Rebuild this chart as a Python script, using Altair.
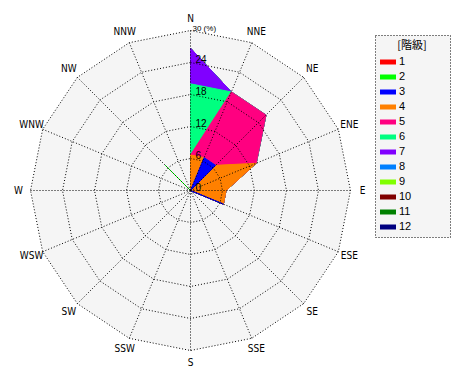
import math
import altair as alt
import pandas as pd

# ---------------- data ----------------
directions = ["N", "NNE", "NE", "ENE", "E", "ESE", "SE", "SSE",
              "S", "SSW", "SW", "WSW", "W", "WNW", "NW", "NNW"]
classes = ["1", "2", "3", "4", "5", "6", "7", "8", "9", "10", "11", "12"]
class_colors = ["#ff0000", "#00ff00", "#0000ff", "#ff8000", "#ff0080", "#00ff80",
                "#8000ff", "#0080ff", "#80ff00", "#800000", "#008000", "#000080"]

# frequency (%) of each class per direction (N, NNE, ... NNW)
freq_1 = [0, 0, 0, 0, 0, 0, 0, 0, 0, 0, 0, 0, 0, 0, 0, 0]
freq_2 = [0, 0, 0, 0, 0, 0, 0, 0, 0, 0, 0, 0, 0, 0, 6.67, 0]
freq_3 = [0, 6.67, 6.67, 0, 0, 6.67, 0, 0, 0, 0, 0, 0, 0, 0, 0, 0]
freq_4 = [6.67, 0, 0, 13.33, 6.67, 0, 0, 0, 0, 0, 0, 0, 0, 0, 0, 0]
freq_5 = [0, 13.33, 13.33, 0, 0, 0, 0, 0, 0, 0, 0, 0, 0, 0, 0, 0]
freq_6 = [13.33, 0, 0, 0, 0, 0, 0, 0, 0, 0, 0, 0, 0, 0, 0, 0]
freq_7 = [6.67, 0, 0, 0, 0, 0, 0, 0, 0, 0, 0, 0, 0, 0, 0, 0]
freq_8 = [0] * 16
freq_9 = [0] * 16
freq_10 = [0] * 16
freq_11 = [0] * 16
freq_12 = [0] * 16
all_freqs = [freq_1, freq_2, freq_3, freq_4, freq_5, freq_6,
             freq_7, freq_8, freq_9, freq_10, freq_11, freq_12]

ring_values = [6, 12, 18, 24, 30]
radial_label_values = [0, 6, 12, 18, 24]
radial_label_texts = ["0", "6", "12", "18", "24"]
outer_label_text = "30 (%)"
legend_title = "[階級]"
R_MAX = 30

# ---------------- tables ----------------
rows = []
cum = [0.0] * 16
for ci, cls in enumerate(classes):
    for i in range(16):
        cum[i] += all_freqs[ci][i]
        rows.append({"cls": cls, "k": ci, "i": i, "ang": i * 22.5, "r": cum[i]})
poly_df = pd.DataFrame(rows)

ring_df = pd.DataFrame([{"ring": v, "i": i, "ang": i * 22.5, "r": v}
                        for v in ring_values for i in range(16)])
spoke_df = pd.DataFrame([{"i": i, "ang": i * 22.5, "r0": 0, "r": R_MAX}
                         for i in range(16)])
dir_df = pd.DataFrame([{"d": d, "ang": i * 22.5, "r": 32.25}
                       for i, d in enumerate(directions)])
rlab_df = pd.DataFrame({"t": radial_label_texts, "v": radial_label_values})
outer_df = pd.DataFrame({"t": [outer_label_text], "v": [R_MAX]})

xs = alt.Scale(domain=[-R_MAX, R_MAX], range=[0.5, 320.5], nice=False, zero=False)
ys = alt.Scale(domain=[-R_MAX, R_MAX], range=[320.5, 0.5], nice=False, zero=False)

def polar(ch, rfield="r"):
    return ch.transform_calculate(
        px=f"datum.{rfield} * sin(datum.ang * PI / 180)",
        py=f"datum.{rfield} * cos(datum.ang * PI / 180)",
    )

X = alt.X("px:Q", scale=xs, axis=None)
Y = alt.Y("py:Q", scale=ys, axis=None)

# background (outer polygon)
bg = polar(alt.Chart(ring_df).transform_filter(f"datum.ring == {R_MAX}")).mark_line(
    interpolate="linear-closed", strokeWidth=0
).encode(x=X, y=Y, order="i:Q", fill=alt.value("#f5f5f5"))

# invisible trailing room (not trimmed) so the legend box is as wide as the reference
nb = "\u00a0" * 11 + "\u200b"
legend = alt.Legend(
    title=legend_title,
    orient="none", legendX=345, legendY=5,
    fillColor="#f5f5f5", strokeColor="black",
    padding=5, titleAnchor="middle", titleAlign="center",
    titleFontSize=11, titleFontWeight="normal", titleColor="#000",
    titleFont="Noto Sans CJK JP", titlePadding=3,
    labelFontSize=11, labelFont="Liberation Sans", labelColor="#000",
    labelExpr=f"datum.label + '{nb}'",
    labelOffset=3, rowPadding=2,
    symbolType="M-1,-0.3125H1V0.3125H-1Z", symbolSize=256,
    symbolStrokeWidth=0, values=classes,
)
color_scale = alt.Scale(domain=classes, range=class_colors)
layers = [bg]
for ci in reversed(range(len(classes))):
    layer = polar(alt.Chart(poly_df).transform_filter(f"datum.k == {ci}")).mark_line(
        interpolate="linear-closed", strokeWidth=1
    ).encode(
        x=X, y=Y, order="i:Q",
        fill=alt.Fill("cls:N", scale=color_scale, legend=legend),
        stroke=alt.Stroke("cls:N", scale=color_scale, legend=None),
    )
    layers.append(layer)

rings = polar(alt.Chart(ring_df)).mark_line(
    interpolate="linear-closed", color="black", strokeWidth=1, strokeDash=[1, 2]
).encode(x=X, y=Y, order="i:Q", detail="ring:N")

spokes = alt.Chart(spoke_df).transform_calculate(
    px0="datum.r0 * sin(datum.ang * PI / 180)",
    py0="datum.r0 * cos(datum.ang * PI / 180)",
    px="datum.r * sin(datum.ang * PI / 180)",
    py="datum.r * cos(datum.ang * PI / 180)",
).mark_rule(color="black", strokeWidth=1, strokeDash=[1, 2]).encode(
    x=alt.X("px0:Q", scale=xs, axis=None), y=alt.Y("py0:Q", scale=ys, axis=None),
    x2="px:Q", y2="py:Q")

dir_labels = polar(alt.Chart(dir_df)).mark_text(
    font="DejaVu Sans Condensed, Liberation Sans", fontSize=10, color="black",
    align="center", baseline="middle"
).encode(x=X, y=Y, text="d:N")

rad_labels = alt.Chart(rlab_df).mark_text(
    font="Liberation Sans", fontSize=10, color="black", align="left",
    baseline="middle", dx=5, dy=-3
).encode(x=alt.X("zero:Q", scale=xs, axis=None), y=alt.Y("v:Q", scale=ys, axis=None),
         text="t:N").transform_calculate(zero="0")

outer_label = alt.Chart(outer_df).mark_text(
    font="Liberation Sans", fontSize=8, color="black", align="left",
    baseline="middle", dx=2, dy=-2
).encode(x=alt.X("zero:Q", scale=xs, axis=None), y=alt.Y("v:Q", scale=ys, axis=None),
         text="t:N").transform_calculate(zero="0")

chart = alt.layer(*layers, rings, spokes, rad_labels, outer_label, dir_labels).properties(
    width=320, height=320, autosize="none",
    padding={"left": 30, "top": 30, "right": 120, "bottom": 30},
    background="white",
).configure_view(stroke=None).configure_legend(strokeDash=[1, 2])

chart.save("out.html", embed_options={"renderer": "svg", "actions": False})
